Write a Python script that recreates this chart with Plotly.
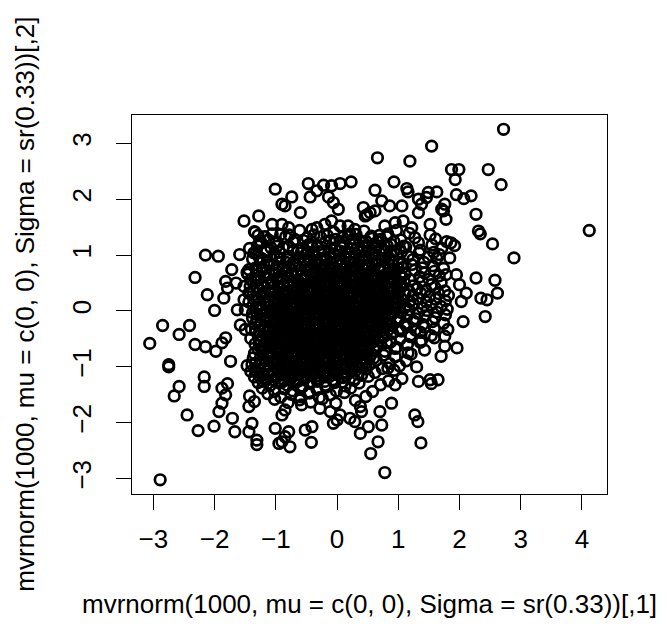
import plotly.graph_objects as go

# ---- points (sparse outer region) ----
top_pts = [(-1.01,2.18),(-0.90,1.91),(-1.52,1.61),(-1.28,1.70),(-1.06,1.55),(-1.34,1.41),
 (1.545,2.95),(0.66,2.74),(1.19,2.68),(-0.47,2.28),(-0.22,2.25),(-0.09,2.24),(0.05,2.28),(0.23,2.31),
 (-0.74,2.04),(-0.44,2.04),(-0.33,2.15),(-0.14,2.04),(-0.85,1.88),(-0.60,1.76),(-0.06,1.94),(0.02,1.82),
 (0.62,2.16),(0.93,2.31),(1.14,2.19),(1.16,2.13),(0.73,1.97),(0.86,1.88),(1.06,1.88),(0.43,1.85),
 (0.54,1.76),(0.46,1.70),(0.49,1.72),(0.62,1.79),(1.49,2.12),(1.63,2.13),(1.33,2.0),(1.38,1.91),
 (1.33,1.76),(1.46,2.03),(1.71,1.82),(1.52,1.55),(-0.90,1.55),(-0.79,1.49),(-0.41,1.46),(-0.33,1.49),
 (-0.20,1.55),(-0.09,1.61),(0.05,1.52),(0.18,1.52),(0.29,1.46),(0.78,1.52),(0.95,1.58),(1.08,1.61),(1.22,1.49)]

right_pts = [(2.72,3.25),(1.87,2.53),(1.99,2.53),(1.93,2.35),(2.47,2.53),(2.68,2.26),(1.95,2.08),(2.07,2.01),
 (2.19,2.06),(1.76,1.91),(1.74,1.79),(1.78,1.64),(2.27,1.73),(4.12,1.44),
 (2.31,1.43),(2.34,1.38),(2.54,1.20),(2.89,0.95),(1.86,1.22),(1.92,1.17),(1.84,0.95),(2.27,0.59),
 (2.58,0.55),(2.62,0.32),(2.35,0.23),(2.45,0.20),(2.42,-0.10),(2.06,-0.19),(1.95,0.65),(2.00,0.47),
 (2.11,0.32),(2.03,0.17),(1.96,-0.66),(1.76,-0.63),(1.70,-0.81),(1.81,-0.33),(1.76,-0.45),(1.65,-1.23)]

bottom_pts = [(0.78,-2.89),(0.55,-2.55),(0.67,-2.34),(0.73,-2.04),(0.70,-1.80),(0.89,-1.65),(0.51,-2.07),
 (0.38,-2.19),(0.38,-1.71),(0.40,-1.80),(1.27,-1.86),(1.32,-1.98),(1.37,-2.36),(1.30,-1.0),(1.33,-1.26),
 (1.52,-1.23),(1.54,-1.30),(-0.42,-2.35),(-0.41,-2.07),(-0.52,-2.13),(-0.77,-2.43),(-0.90,-2.34),
 (-0.85,-2.25),(-0.79,-2.16),(-0.06,-2.01),(0.0,-1.95),(0.21,-1.92),(0.29,-1.98),(-0.85,-1.77),
 (-0.90,-1.86),(-0.58,-1.68),(-0.28,-1.74),(-0.11,-1.80),(0.05,-1.86),(0.95,-1.32),(1.06,-1.21),(0.83,-1.02)]

left_pts = [(-2.89,-3.02),(-2.75,-1.0),(-2.58,-1.35),(-2.66,-1.52),(-2.45,-1.86),(-2.27,-2.14),(-2.01,-2.06),
 (-2.17,-1.18),(-2.17,-1.35),(-1.67,-2.16),(-1.71,-1.92),(-1.44,-2.16),(-1.39,-2.01),(-1.31,-2.31),
 (-1.31,-2.39),(-1.93,-1.80),(-1.88,-1.65),(-1.82,-1.50),(-1.88,-1.38),(-1.79,-1.30),(-1.44,-1.71),
 (-1.01,-2.10),(-0.95,-2.37),
 (-3.06,-0.58),(-2.85,-0.26),(-2.58,-0.42),(-2.41,-0.26),(-2.75,-0.96),(-2.32,-0.60),(-2.15,-0.64),
 (-1.98,-0.72),(-2.32,0.60),(-2.12,0.29),(-2.0,0.01),(-2.15,1.0),(-1.94,0.98),(-1.59,1.01),(-1.32,1.04),
 (-1.29,1.35),(-1.06,1.38),(-1.72,0.74),(-1.82,0.53),(-1.79,0.41),(-1.85,0.23),(-1.47,0.69),(-1.31,0.73),
 (-1.65,0.50),(-1.52,0.44),(-1.44,0.32),(-1.52,0.20),(-1.63,0.02),(-1.50,0.02),(-1.58,-0.25),(-1.50,-0.33),
 (-1.82,-0.48),(-1.88,-0.57),(-1.74,-0.90)]

# ---- dense centre (estimated, fully overplotted in the picture) ----
core_upper = [
 (-1.35,1.42),(-0.92,1.37),(-0.61,1.44),(-0.38,1.36),(-0.05,1.41),(0.21,1.38),(0.44,1.43),(0.69,1.35),(0.97,1.44),(1.18,1.39),(1.52,1.36),
 (-1.12,1.27),(-0.84,1.33),(-0.55,1.26),(-0.27,1.32),(-0.02,1.28),(0.18,1.34),(0.37,1.25),(0.58,1.30),(0.81,1.33),(1.04,1.27),(1.27,1.31),(1.61,1.29),
 (-1.24,1.22),(-0.98,1.16),(-0.71,1.23),(-0.47,1.18),(-0.19,1.24),(0.06,1.17),(0.27,1.21),(0.49,1.15),(0.66,1.24),(0.88,1.19),(1.09,1.16),(1.33,1.22),(1.55,1.18),(1.79,1.24),
 (-1.43,1.12),(-1.15,1.06),(-0.88,1.13),(-0.64,1.09),(-0.41,1.14),(-0.22,1.07),(-0.03,1.11),(0.15,1.05),(0.33,1.13),(0.52,1.08),(0.71,1.12),(0.93,1.06),(1.12,1.14),(1.36,1.09),(1.58,1.05),(1.71,1.12),
 (-1.27,0.96),(-1.03,1.02),(-0.81,0.97),(-0.59,1.04),(-0.39,0.99),(-0.21,0.95),(-0.04,1.02),(0.12,0.97),(0.29,1.04),(0.45,0.96),(0.62,1.01),(0.79,0.95),(0.98,1.03),(1.16,0.98),(1.34,1.04),(1.49,0.96),(1.67,1.01),
 (-1.38,0.93),(-1.14,0.88),(-0.93,0.94),(-0.72,0.86),(-0.54,0.91),(-0.36,0.85),(-0.17,0.92),(-0.01,0.88),(0.14,0.94),(0.27,0.87),(0.41,0.91),(0.57,0.86),(0.73,0.93),(0.91,0.89),(1.07,0.85),(1.24,0.92),(1.42,0.87),(1.63,0.94),
 (-1.33,0.77),(-1.11,0.82),(-0.89,0.76),(-0.68,0.84),(-0.51,0.79),(-0.33,0.75),(-0.19,0.82),(-0.06,0.77),(0.08,0.83),(0.21,0.76),(0.35,0.81),(0.48,0.78),(0.63,0.84),(0.77,0.76),(0.92,0.82),(1.08,0.78),(1.22,0.83),(1.39,0.77),(1.56,0.81),(1.74,0.76),
 (-1.46,0.66),(-1.22,0.73),(-1.01,0.67),(-0.83,0.71),(-0.66,0.65),(-0.49,0.72),(-0.34,0.68),(-0.21,0.74),(-0.08,0.66),(0.04,0.71),(0.17,0.67),(0.29,0.73),(0.42,0.65),(0.55,0.7),(0.68,0.74),(0.82,0.67),(0.96,0.72),(1.11,0.66),(1.27,0.73),(1.43,0.68),(1.59,0.71),(1.78,0.65),
 (-1.41,0.56),(-1.19,0.61),(-0.98,0.57),(-0.8,0.63),(-0.64,0.55),(-0.5,0.6),(-0.37,0.64),(-0.25,0.57),(-0.13,0.61),(-0.02,0.56),(0.09,0.63),(0.2,0.58),(0.31,0.62),(0.43,0.55),(0.55,0.61),(0.67,0.57),(0.8,0.64),(0.93,0.58),(1.06,0.62),(1.2,0.56),(1.35,0.61),(1.5,0.57),(1.67,0.63),
 (-1.32,0.53),(-1.13,0.47),(-0.95,0.51),(-0.79,0.45),(-0.64,0.52),(-0.51,0.48),(-0.39,0.54),(-0.27,0.46),(-0.16,0.5),(-0.05,0.53),(0.06,0.47),(0.16,0.52),(0.27,0.45),(0.38,0.51),(0.49,0.47),(0.6,0.54),(0.72,0.48),(0.84,0.52),(0.97,0.46),(1.1,0.51),(1.24,0.45),(1.39,0.53),(1.54,0.47),(1.7,0.51)]

core_mid = [
 (-1.3,0.41),(-1.12,0.37),(-0.96,0.43),(-0.82,0.35),(-0.69,0.4),(-0.56,0.44),(-0.44,0.37),(-0.33,0.42),(-0.22,0.36),(-0.12,0.41),(-0.02,0.38),(0.08,0.43),(0.18,0.35),(0.28,0.4),(0.38,0.44),(0.48,0.37),(0.59,0.42),(0.7,0.36),(0.81,0.41),(0.93,0.38),(1.05,0.43),(1.18,0.35),(1.31,0.4),(1.45,0.37),(1.6,0.42),(1.76,0.36),
 (-1.42,0.31),(-1.23,0.27),(-1.07,0.33),(-0.92,0.25),(-0.79,0.3),(-0.66,0.34),(-0.54,0.27),(-0.43,0.32),(-0.32,0.26),(-0.22,0.31),(-0.12,0.28),(-0.03,0.33),(0.07,0.25),(0.16,0.3),(0.26,0.34),(0.35,0.27),(0.45,0.32),(0.55,0.26),(0.65,0.31),(0.76,0.28),(0.87,0.33),(0.99,0.25),(1.11,0.3),(1.24,0.27),(1.37,0.32),(1.51,0.26),(1.66,0.31),(1.82,0.28),
 (-1.36,0.21),(-1.19,0.17),(-1.04,0.23),(-0.9,0.15),(-0.77,0.2),(-0.65,0.24),(-0.54,0.17),(-0.44,0.22),(-0.34,0.16),(-0.24,0.21),(-0.15,0.18),(-0.06,0.23),(0.03,0.15),(0.12,0.2),(0.21,0.24),(0.31,0.17),(0.4,0.22),(0.5,0.16),(0.6,0.21),(0.71,0.18),(0.82,0.23),(0.94,0.15),(1.06,0.2),(1.19,0.17),(1.32,0.22),(1.46,0.16),(1.61,0.21),(1.77,0.18),
 (-1.32,0.07),(-1.16,0.13),(-1.02,0.05),(-0.89,0.1),(-0.77,0.14),(-0.66,0.07),(-0.56,0.12),(-0.46,0.06),(-0.37,0.11),(-0.28,0.08),(-0.19,0.13),(-0.1,0.05),(-0.01,0.1),(0.08,0.14),(0.17,0.07),(0.26,0.12),(0.35,0.06),(0.45,0.11),(0.55,0.08),(0.65,0.13),(0.76,0.05),(0.87,0.1),(0.99,0.14),(1.12,0.07),(1.25,0.12),(1.39,0.06),(1.54,0.11),(1.7,0.08),
 (-1.38,-0.03),(-1.22,0.03),(-1.08,-0.05),(-0.95,0.0),(-0.83,0.04),(-0.72,-0.03),(-0.62,0.02),(-0.52,-0.04),(-0.43,0.01),(-0.34,-0.02),(-0.25,0.03),(-0.16,-0.05),(-0.07,0.0),(0.02,0.04),(0.11,-0.03),(0.2,0.02),(0.29,-0.04),(0.39,0.01),(0.49,-0.02),(0.59,0.03),(0.7,-0.05),(0.81,0.0),(0.93,0.04),(1.05,-0.03),(1.18,0.02),(1.32,-0.04),(1.47,0.01),(1.63,-0.02),(1.8,0.03),
 (-1.38,-0.13),(-1.23,-0.07),(-1.09,-0.15),(-0.97,-0.1),(-0.85,-0.06),(-0.74,-0.13),(-0.64,-0.08),(-0.55,-0.14),(-0.46,-0.09),(-0.37,-0.12),(-0.28,-0.07),(-0.19,-0.15),(-0.1,-0.1),(-0.01,-0.06),(0.08,-0.13),(0.17,-0.08),(0.26,-0.14),(0.36,-0.09),(0.46,-0.12),(0.56,-0.07),(0.67,-0.15),(0.78,-0.1),(0.9,-0.06),(1.02,-0.13),(1.15,-0.08),(1.29,-0.14),(1.44,-0.09),(1.6,-0.12),(1.77,-0.07),
 (-1.34,-0.23),(-1.19,-0.17),(-1.05,-0.25),(-0.93,-0.2),(-0.82,-0.16),(-0.71,-0.23),(-0.61,-0.18),(-0.51,-0.24),(-0.42,-0.19),(-0.33,-0.22),(-0.24,-0.17),(-0.15,-0.25),(-0.06,-0.2),(0.03,-0.16),(0.12,-0.23),(0.22,-0.18),(0.32,-0.24),(0.42,-0.19),(0.52,-0.22),(0.63,-0.17),(0.74,-0.25),(0.86,-0.2),(0.98,-0.16),(1.11,-0.23),(1.25,-0.18),(1.4,-0.24),(1.56,-0.19),(1.74,-0.22),
 (-1.4,-0.33),(-1.25,-0.27),(-1.11,-0.35),(-0.99,-0.3),(-0.88,-0.26),(-0.77,-0.33),(-0.67,-0.28),(-0.57,-0.34),(-0.48,-0.29),(-0.39,-0.32),(-0.3,-0.27),(-0.21,-0.35),(-0.12,-0.3),(-0.03,-0.26),(0.06,-0.33),(0.15,-0.28),(0.25,-0.34),(0.35,-0.29),(0.45,-0.32),(0.55,-0.27),(0.66,-0.35),(0.77,-0.3),(0.89,-0.26),(1.01,-0.33),(1.14,-0.28),(1.28,-0.34),(1.43,-0.29),(1.59,-0.32),
 (-1.29,-0.43),(-1.15,-0.37),(-1.02,-0.45),(-0.9,-0.4),(-0.79,-0.36),(-0.69,-0.43),(-0.59,-0.38),(-0.49,-0.44),(-0.4,-0.39),(-0.31,-0.42),(-0.22,-0.37),(-0.13,-0.45),(-0.04,-0.4),(0.05,-0.36),(0.14,-0.43),(0.24,-0.38),(0.34,-0.44),(0.44,-0.39),(0.55,-0.42),(0.66,-0.37),(0.78,-0.45),(0.91,-0.4),(1.05,-0.36),(1.2,-0.43),(1.36,-0.38),(1.54,-0.44)]

core_lower = [
 (-1.41,-0.49),(-1.25,-0.53),(-1.11,-0.47),(-0.98,-0.55),(-0.87,-0.5),(-0.76,-0.46),(-0.66,-0.53),(-0.56,-0.48),(-0.47,-0.54),(-0.38,-0.49),(-0.29,-0.52),(-0.2,-0.47),(-0.11,-0.55),(-0.02,-0.5),(0.07,-0.46),(0.17,-0.53),(0.27,-0.48),(0.38,-0.54),(0.49,-0.49),(0.61,-0.52),(0.74,-0.47),(0.88,-0.55),(1.03,-0.5),(1.2,-0.46),(1.38,-0.53),(1.59,-0.48),
 (-1.34,-0.59),(-1.19,-0.63),(-1.06,-0.57),(-0.94,-0.65),(-0.83,-0.6),(-0.73,-0.56),(-0.63,-0.63),(-0.54,-0.58),(-0.45,-0.64),(-0.36,-0.59),(-0.27,-0.62),(-0.18,-0.57),(-0.09,-0.65),(0.0,-0.6),(0.1,-0.56),(0.2,-0.63),(0.31,-0.58),(0.42,-0.64),(0.54,-0.59),(0.67,-0.62),(0.81,-0.57),(0.97,-0.65),(1.15,-0.6),(1.36,-0.56),
 (-1.29,-0.69),(-1.14,-0.73),(-1.01,-0.67),(-0.9,-0.75),(-0.79,-0.7),(-0.69,-0.66),(-0.59,-0.73),(-0.5,-0.68),(-0.41,-0.74),(-0.32,-0.69),(-0.23,-0.72),(-0.14,-0.67),(-0.05,-0.75),(0.05,-0.7),(0.15,-0.66),(0.26,-0.73),(0.38,-0.68),(0.5,-0.74),(0.63,-0.69),(0.78,-0.72),(0.95,-0.67),(1.16,-0.75),(1.43,-0.7),
 (-1.37,-0.84),(-1.21,-0.79),(-1.07,-0.83),(-0.95,-0.77),(-0.84,-0.85),(-0.74,-0.8),(-0.64,-0.76),(-0.55,-0.83),(-0.46,-0.78),(-0.37,-0.84),(-0.28,-0.79),(-0.19,-0.82),(-0.1,-0.77),(0.0,-0.85),(0.1,-0.8),(0.21,-0.76),(0.33,-0.83),(0.46,-0.78),(0.6,-0.84),(0.76,-0.79),(0.95,-0.82),(1.21,-0.77),
 (-1.33,-0.94),(-1.17,-0.89),(-1.03,-0.93),(-0.91,-0.87),(-0.8,-0.95),(-0.7,-0.9),(-0.6,-0.86),(-0.51,-0.93),(-0.42,-0.88),(-0.33,-0.94),(-0.24,-0.89),(-0.14,-0.92),(-0.04,-0.87),(0.07,-0.95),(0.19,-0.9),(0.32,-0.86),(0.47,-0.93),(0.64,-0.88),(0.86,-0.94),(1.13,-0.89),
 (-1.47,-0.98),(-1.27,-1.04),(-1.11,-0.99),(-0.97,-1.03),(-0.85,-0.97),(-0.74,-1.05),(-0.64,-1.0),(-0.54,-0.96),(-0.44,-1.03),(-0.35,-0.98),(-0.25,-1.04),(-0.15,-0.99),(-0.04,-1.02),(0.08,-0.97),(0.21,-1.05),(0.36,-1.0),(0.53,-0.96),(0.74,-1.03),(1.02,-0.98),
 (-1.41,-1.08),(-1.21,-1.14),(-1.05,-1.09),(-0.92,-1.13),(-0.8,-1.07),(-0.69,-1.15),(-0.58,-1.1),(-0.48,-1.06),(-0.38,-1.13),(-0.28,-1.08),(-0.17,-1.14),(-0.05,-1.09),(0.08,-1.12),(0.23,-1.07),(0.4,-1.15),(0.62,-1.1),(0.93,-1.06),
 (-1.35,-1.18),(-1.16,-1.24),(-1.0,-1.19),(-0.87,-1.23),(-0.75,-1.17),(-0.63,-1.25),(-0.52,-1.2),(-0.41,-1.16),(-0.3,-1.23),(-0.18,-1.18),(-0.05,-1.24),(0.1,-1.19),(0.28,-1.22),(0.51,-1.17),(0.84,-1.25),
 (-1.29,-1.28),(-1.1,-1.34),(-0.94,-1.29),(-0.81,-1.33),(-0.68,-1.27),(-0.56,-1.35),(-0.44,-1.3),(-0.32,-1.26),(-0.19,-1.33),(-0.04,-1.28),(0.13,-1.34),(0.36,-1.29),(0.71,-1.32),
 (-1.22,-1.38),(-1.02,-1.44),(-0.86,-1.39),(-0.72,-1.43),(-0.59,-1.37),(-0.46,-1.45),(-0.33,-1.4),(-0.18,-1.36),(-0.01,-1.43),(0.22,-1.38),(0.58,-1.44),
 (-1.43,-1.52),(-1.13,-1.48),(-0.92,-1.54),(-0.75,-1.49),(-0.6,-1.53),(-0.45,-1.47),(-0.29,-1.55),(-0.11,-1.5),(0.12,-1.46),(0.47,-1.53),
 (-1.35,-1.62),(-1.02,-1.58),(-0.8,-1.64),(-0.61,-1.59),(-0.43,-1.63),(-0.24,-1.57),(-0.02,-1.65),(0.3,-1.6)]

# ---- extra overplotted points filling the solid black middle ----
core_fill = [
 (-1.18,1.33),(-0.78,1.36),(-0.49,1.31),(-0.16,1.35),(0.09,1.32),(0.31,1.37),(0.56,1.34),(0.83,1.38),
 (-1.26,1.26),(-1.0,1.24),(-0.69,1.28),(-0.41,1.23),(-0.12,1.26),(0.09,1.24),(0.27,1.29),(0.47,1.25),(0.71,1.28),(0.93,1.24),
 (-1.3,1.17),(-1.08,1.13),(-0.79,1.16),(-0.56,1.12),(-0.32,1.17),(-0.11,1.13),(0.06,1.15),(0.24,1.11),(0.42,1.16),(0.61,1.13),(0.82,1.17),(1.02,1.12),
 (-1.36,1.04),(-1.17,1.07),(-0.94,1.05),(-0.72,1.08),(-0.5,1.03),(-0.3,1.06),(-0.12,1.04),(0.05,1.07),(0.22,1.03),(0.41,1.06),(0.58,1.04),(0.8,1.07),(1.05,1.05),
 (-1.22,0.93),(-0.98,0.96),(-0.8,0.92),(-0.63,0.95),(-0.45,0.91),(-0.27,0.94),(-0.09,0.97),(0.06,0.93),(0.21,0.95),(0.36,0.92),(0.52,0.96),(0.68,0.91),(0.86,0.94),
 (-1.25,0.86),(-1.03,0.83),(-0.83,0.87),(-0.61,0.84),(-0.44,0.87),(-0.27,0.83),(-0.09,0.86),(0.07,0.84),(0.21,0.87),(0.34,0.85),(0.5,0.82),(0.66,0.87),(0.84,0.84),(1.0,0.86),
 (-1.44,0.74),(-1.22,0.76),(-1.0,0.73),(-0.79,0.77),(-0.6,0.74),(-0.42,0.77),(-0.26,0.73),(-0.12,0.76),(0.02,0.73),(0.15,0.77),(0.28,0.74),(0.42,0.76),(0.56,0.73),(0.7,0.77),(0.85,0.74),(1.0,0.76),
 (-1.33,0.64),(-1.11,0.66),(-0.92,0.63),(-0.74,0.67),(-0.57,0.64),(-0.42,0.66),(-0.28,0.63),(-0.15,0.67),(-0.02,0.64),(0.11,0.66),(0.23,0.63),(0.36,0.67),(0.49,0.64),(0.62,0.66),(0.76,0.63),(0.89,0.67),(1.03,0.64),
 (-1.29,0.56),(-1.08,0.53),(-0.89,0.57),(-0.72,0.54),(-0.57,0.57),(-0.44,0.53),(-0.31,0.56),(-0.19,0.54),(-0.07,0.57),(0.04,0.53),(0.15,0.56),(0.26,0.54),(0.37,0.57),(0.49,0.53),(0.61,0.56),(0.74,0.54),(0.87,0.57),(1.0,0.53),
 (-1.42,0.44),(-1.21,0.46),(-1.04,0.43),(-0.87,0.47),(-0.72,0.44),(-0.58,0.46),(-0.45,0.43),(-0.33,0.47),(-0.21,0.44),(-0.1,0.46),(0.01,0.43),(0.11,0.47),(0.22,0.44),(0.33,0.46),(0.43,0.43),(0.54,0.47),(0.66,0.44),(0.78,0.46),(0.9,0.43),(1.03,0.47),
 (-1.38,0.36),(-1.2,0.33),(-1.02,0.37),(-0.88,0.34),(-0.74,0.36),(-0.61,0.33),(-0.49,0.37),(-0.38,0.34),(-0.27,0.36),(-0.17,0.33),(-0.07,0.37),(0.03,0.34),(0.13,0.36),(0.23,0.33),(0.33,0.37),(0.43,0.34),(0.53,0.36),(0.64,0.33),(0.75,0.37),(0.87,0.34),(1.0,0.36),
 (-1.33,0.24),(-1.15,0.26),(-0.99,0.23),(-0.85,0.27),(-0.72,0.24),(-0.6,0.26),(-0.49,0.23),(-0.38,0.27),(-0.28,0.24),(-0.18,0.26),(-0.08,0.23),(0.02,0.27),(0.11,0.24),(0.21,0.26),(0.31,0.23),(0.41,0.27),(0.51,0.24),(0.61,0.26),(0.72,0.23),(0.84,0.27),(0.96,0.24),
 (-1.44,0.16),(-1.27,0.13),(-1.11,0.17),(-0.97,0.14),(-0.84,0.16),(-0.71,0.13),(-0.6,0.17),(-0.49,0.14),(-0.39,0.16),(-0.29,0.13),(-0.2,0.17),(-0.11,0.14),(-0.01,0.16),(0.08,0.13),(0.17,0.17),(0.27,0.14),(0.37,0.16),(0.47,0.13),(0.57,0.17),(0.68,0.14),(0.8,0.16),(0.93,0.13),
 (-1.25,0.04),(-1.1,0.07),(-0.96,0.03),(-0.83,0.06),(-0.71,0.04),(-0.6,0.07),(-0.5,0.03),(-0.41,0.06),(-0.32,0.04),(-0.23,0.07),(-0.14,0.03),(-0.05,0.06),(0.04,0.04),(0.13,0.07),(0.22,0.03),(0.31,0.06),(0.41,0.04),(0.51,0.07),(0.61,0.03),(0.72,0.06),(0.84,0.04),(0.97,0.07),
 (-1.31,-0.06),(-1.15,-0.03),(-1.01,-0.07),(-0.89,-0.04),(-0.77,-0.06),(-0.67,-0.03),(-0.57,-0.07),(-0.48,-0.04),(-0.39,-0.06),(-0.3,-0.03),(-0.21,-0.07),(-0.12,-0.04),(-0.03,-0.06),(0.06,-0.03),(0.16,-0.07),(0.25,-0.04),(0.34,-0.06),(0.44,-0.03),(0.54,-0.07),(0.65,-0.04),(0.76,-0.06),(0.88,-0.03),
 (-1.3,-0.16),(-1.16,-0.13),(-1.03,-0.17),(-0.91,-0.14),(-0.79,-0.16),(-0.69,-0.13),(-0.59,-0.17),(-0.5,-0.14),(-0.41,-0.16),(-0.32,-0.13),(-0.23,-0.17),(-0.14,-0.14),(-0.05,-0.16),(0.04,-0.13),(0.13,-0.17),(0.22,-0.14),(0.31,-0.16),(0.41,-0.13),(0.51,-0.17),(0.62,-0.14),(0.73,-0.16),(0.85,-0.13),
 (-1.26,-0.24),(-1.12,-0.27),(-0.99,-0.23),(-0.87,-0.26),(-0.76,-0.24),(-0.66,-0.27),(-0.56,-0.23),(-0.47,-0.26),(-0.37,-0.24),(-0.28,-0.27),(-0.19,-0.23),(-0.1,-0.26),(-0.01,-0.24),(0.08,-0.27),(0.17,-0.23),(0.27,-0.26),(0.37,-0.24),(0.47,-0.27),(0.58,-0.23),(0.69,-0.26),(0.81,-0.24),
 (-1.33,-0.36),(-1.18,-0.33),(-1.05,-0.37),(-0.93,-0.34),(-0.82,-0.36),(-0.72,-0.33),(-0.62,-0.37),(-0.52,-0.34),(-0.43,-0.36),(-0.34,-0.33),(-0.25,-0.37),(-0.16,-0.34),(-0.07,-0.36),(0.02,-0.33),(0.11,-0.37),(0.2,-0.34),(0.3,-0.36),(0.4,-0.33),(0.5,-0.37),(0.61,-0.34),(0.72,-0.36),(0.84,-0.33),
 (-1.22,-0.46),(-1.08,-0.43),(-0.96,-0.47),(-0.84,-0.44),(-0.74,-0.46),(-0.64,-0.43),(-0.54,-0.47),(-0.44,-0.44),(-0.35,-0.46),(-0.26,-0.43),(-0.17,-0.47),(-0.08,-0.44),(0.01,-0.46),(0.1,-0.43),(0.19,-0.47),(0.29,-0.44),(0.39,-0.46),(0.5,-0.43),(0.61,-0.47),(0.73,-0.44),
 (-1.27,-0.56),(-1.13,-0.53),(-1.01,-0.57),(-0.9,-0.54),(-0.79,-0.56),(-0.69,-0.53),(-0.59,-0.57),(-0.5,-0.54),(-0.41,-0.56),(-0.32,-0.53),(-0.23,-0.57),(-0.14,-0.54),(-0.05,-0.56),(0.04,-0.53),(0.13,-0.57),(0.23,-0.54),(0.33,-0.56),(0.44,-0.53),(0.56,-0.57),(0.68,-0.54),
 (-1.24,-0.66),(-1.1,-0.63),(-0.98,-0.67),(-0.87,-0.64),(-0.77,-0.66),(-0.67,-0.63),(-0.57,-0.67),(-0.48,-0.64),(-0.39,-0.66),(-0.3,-0.63),(-0.21,-0.67),(-0.12,-0.64),(-0.03,-0.66),(0.06,-0.63),(0.16,-0.67),(0.26,-0.64),(0.37,-0.66),(0.48,-0.63),(0.6,-0.67),
 (-1.35,-0.76),(-1.21,-0.73),(-1.08,-0.77),(-0.96,-0.74),(-0.85,-0.76),(-0.74,-0.73),(-0.64,-0.77),(-0.55,-0.74),(-0.46,-0.76),(-0.37,-0.73),(-0.28,-0.77),(-0.19,-0.74),(-0.1,-0.76),(0.0,-0.73),(0.1,-0.77),(0.2,-0.74),(0.31,-0.76),(0.43,-0.73),(0.56,-0.77),
 (-1.26,-0.86),(-1.13,-0.83),(-1.01,-0.87),(-0.9,-0.84),(-0.79,-0.86),(-0.69,-0.83),(-0.59,-0.87),(-0.5,-0.84),(-0.41,-0.86),(-0.32,-0.83),(-0.23,-0.87),(-0.14,-0.84),(-0.05,-0.86),(0.05,-0.83),(0.15,-0.87),(0.26,-0.84),(0.39,-0.86),(0.53,-0.83),
 (-1.39,-0.96),(-1.24,-0.93),(-1.1,-0.97),(-0.97,-0.94),(-0.86,-0.96),(-0.75,-0.93),(-0.65,-0.97),(-0.55,-0.94),(-0.46,-0.96),(-0.37,-0.93),(-0.28,-0.97),(-0.19,-0.94),(-0.09,-0.96),(0.02,-0.93),(0.13,-0.97),(0.26,-0.94),(0.41,-0.96),
 (-1.33,-1.06),(-1.18,-1.03),(-1.04,-1.07),(-0.92,-1.04),(-0.8,-1.06),(-0.69,-1.03),(-0.59,-1.07),(-0.49,-1.04),(-0.4,-1.06),(-0.3,-1.03),(-0.2,-1.07),(-0.1,-1.04),(0.01,-1.06),(0.14,-1.03),(0.3,-1.07),(0.48,-1.04),
 (-1.27,-1.16),(-1.11,-1.13),(-0.97,-1.17),(-0.85,-1.14),(-0.74,-1.16),(-0.63,-1.13),(-0.53,-1.17),(-0.43,-1.14),(-0.33,-1.16),(-0.23,-1.13),(-0.12,-1.17),(0.0,-1.14),(0.15,-1.16),(0.33,-1.13),
 (-1.21,-1.26),(-1.04,-1.23),(-0.9,-1.27),(-0.77,-1.24),(-0.65,-1.26),(-0.54,-1.23),(-0.43,-1.27),(-0.32,-1.24),(-0.2,-1.26),(-0.07,-1.23),(0.09,-1.27),(0.28,-1.24)]

x_ticks = [-3, -2, -1, 0, 1, 2, 3, 4]
y_ticks = [-3, -2, -1, 0, 1, 2, 3]
x_title = "mvrnorm(1000, mu = c(0, 0), Sigma = sr(0.33))[,1]"
y_title = "mvrnorm(1000, mu = c(0, 0), Sigma = sr(0.33))[,2]"

pts = top_pts + right_pts + bottom_pts + left_pts + core_upper + core_mid + core_lower + core_fill
xs = [p[0] for p in pts]
ys = [p[1] for p in pts]

def lab(v):
    return ("\u2212" + str(-v)) if v < 0 else str(v)

FONT = "Liberation Sans, Arial, Helvetica, sans-serif"
FS = 26

fig = go.Figure(go.Scatter(
    x=xs, y=ys, mode="markers",
    marker=dict(symbol="circle-open", size=10.6, color="black", line=dict(width=2.7, color="black")),
    hoverinfo="skip"))

fig.update_layout(
    width=669, height=627,
    margin=dict(l=132, r=62, t=115, b=133),
    paper_bgcolor="white", plot_bgcolor="white",
    showlegend=False,
    font=dict(family=FONT, size=FS, color="black"),
    xaxis=dict(range=[-3.35, 4.41], tickvals=x_ticks, ticktext=[lab(v) for v in x_ticks],
               ticks="outside", ticklen=15, tickwidth=1.3, tickcolor="black",
               showline=True, mirror=True, linecolor="black", linewidth=1.3,
               showgrid=False, zeroline=False, ticklabelstandoff=7,
               tickfont=dict(family=FONT, size=FS, color="black")),
    yaxis=dict(range=[-3.274, 3.506], tickvals=y_ticks, ticktext=[lab(v) for v in y_ticks],
               ticks="outside", ticklen=15, tickwidth=1.3, tickcolor="black",
               showline=True, mirror=True, linecolor="black", linewidth=1.3,
               showgrid=False, zeroline=False, tickangle=-90, ticklabelstandoff=14,
               tickfont=dict(family=FONT, size=FS, color="black")),
    annotations=[
        dict(text=x_title, xref="paper", yref="paper", x=0.5, y=-0.29, xanchor="center", yanchor="middle",
             showarrow=False, font=dict(family=FONT, size=FS, color="black")),
        dict(text=y_title, xref="paper", yref="paper", x=-0.227, y=0.5, xanchor="center", yanchor="middle",
             textangle=-90, showarrow=False, font=dict(family=FONT, size=FS, color="black")),
    ])

fig.write_html("out.html")
